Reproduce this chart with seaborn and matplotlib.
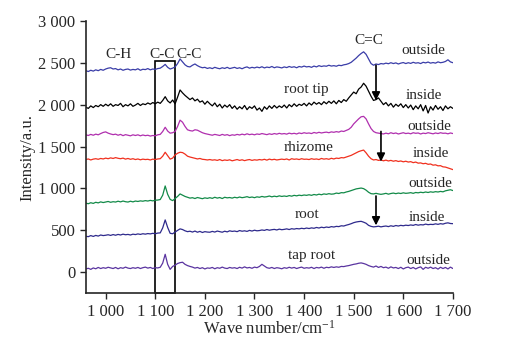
import numpy as np
import pandas as pd
import seaborn as sns
import matplotlib.pyplot as plt
from matplotlib.patches import Rectangle

sns.set_style("ticks")
plt.rcParams["font.family"] = ["Liberation Serif", "DejaVu Serif"]
plt.rcParams["mathtext.fontset"] = "custom"
plt.rcParams["mathtext.rm"] = "Liberation Serif"
plt.rcParams["mathtext.it"] = "Liberation Serif:italic"

# Raman shift axis (cm^-1), 5 cm^-1 steps
wavenumber = list(range(960, 1701, 5))

root_tip_outside = [
    2405, 2395, 2410, 2400, 2415, 2405, 2420, 2410, 2425, 2435,
    2440, 2425, 2430, 2415, 2425, 2410, 2420, 2425, 2412, 2420,
    2415, 2428, 2410, 2422, 2418, 2430, 2415, 2425, 2420, 2430,
    2435, 2455, 2480, 2445, 2425, 2435, 2450, 2490, 2545, 2510,
    2475, 2455, 2450, 2470, 2485, 2465, 2450, 2440, 2445, 2432,
    2440, 2430, 2445, 2435, 2428, 2440, 2432, 2445, 2430, 2438,
    2445, 2432, 2440, 2428, 2442, 2450, 2435, 2445, 2438, 2448,
    2440, 2452, 2438, 2448, 2442, 2455, 2440, 2450, 2445, 2438,
    2450, 2442, 2455, 2445, 2452, 2440, 2455, 2448, 2460, 2450,
    2455, 2445, 2460, 2450, 2465, 2455, 2462, 2458, 2470, 2460,
    2465, 2458, 2470, 2465, 2475, 2480, 2490, 2505, 2530, 2555,
    2585, 2610, 2630, 2600, 2545, 2490, 2470, 2485, 2478, 2490,
    2485, 2495, 2488, 2500, 2490, 2498, 2485, 2495, 2502, 2490,
    2500, 2492, 2505, 2495, 2500, 2490, 2505, 2498, 2508, 2495,
    2502, 2495, 2510, 2500, 2505, 2515, 2535, 2510, 2500]
root_tip_inside = [
    1970, 1955, 1985, 1965, 1990, 1975, 2000, 1980, 2005, 1985,
    2010, 1980, 2000, 1990, 2015, 1975, 2000, 1985, 2010, 1980,
    1995, 2015, 1990, 2010, 2000, 2020, 2005, 2025, 2010, 2030,
    2015, 2050, 2095, 2045, 2020, 2055, 2010, 2090, 2175, 2140,
    2110, 2085, 2060, 2080, 2045, 2065, 2030, 2045, 2005, 2040,
    2010, 1985, 2020, 1975, 2005, 1960, 1995, 1970, 2000, 1955,
    1985, 1945, 1975, 1950, 1990, 1940, 1975, 1955, 1985, 1935,
    1960, 1920, 1975, 1945, 1985, 1955, 1990, 1960, 1985, 1965,
    1995, 1960, 2000, 1975, 2010, 1980, 2005, 1990, 2015, 1985,
    2020, 1995, 2030, 2005, 2025, 2000, 2035, 2010, 2040, 2015,
    2045, 2010, 2050, 2025, 2060, 2040, 2080, 2115, 2150, 2130,
    2185, 2210, 2255, 2220, 2160, 2100, 2050, 2060, 2080, 2040,
    2000, 2025, 1985, 2015, 1970, 2005, 1980, 2010, 1965, 2000,
    1960, 1995, 1940, 1985, 1950, 2000, 1925, 1990, 1900, 1975,
    1935, 1990, 1945, 1975, 1930, 1985, 1950, 1975, 1955]
rhizome_outside = [
    1640, 1632, 1645, 1635, 1648, 1640, 1655, 1668, 1675, 1660,
    1650, 1642, 1648, 1635, 1645, 1630, 1642, 1635, 1628, 1640,
    1632, 1640, 1628, 1638, 1630, 1635, 1625, 1632, 1628, 1640,
    1645, 1680, 1730, 1685, 1660, 1665, 1680, 1740, 1815, 1790,
    1740, 1700, 1690, 1685, 1700, 1695, 1680, 1665, 1655, 1648,
    1642, 1635, 1645, 1638, 1632, 1645, 1635, 1642, 1630, 1640,
    1635, 1645, 1638, 1648, 1640, 1652, 1642, 1648, 1640, 1650,
    1645, 1655, 1648, 1642, 1652, 1645, 1655, 1648, 1658, 1650,
    1655, 1648, 1660, 1652, 1658, 1650, 1662, 1655, 1665, 1658,
    1662, 1655, 1668, 1660, 1670, 1662, 1668, 1672, 1665, 1675,
    1670, 1678, 1672, 1685, 1680, 1692, 1705, 1730, 1770, 1800,
    1830, 1855, 1860, 1830, 1770, 1715, 1680, 1665, 1660, 1655,
    1650, 1660, 1652, 1665, 1655, 1662, 1650, 1658, 1665, 1655,
    1660, 1652, 1665, 1658, 1662, 1650, 1660, 1655, 1665, 1658,
    1652, 1662, 1655, 1665, 1658, 1660, 1652, 1662, 1655]
rhizome_inside = [
    1345, 1352, 1340, 1350, 1355, 1348, 1358, 1352, 1362, 1355,
    1365, 1358, 1368, 1360, 1355, 1362, 1350, 1358, 1348, 1355,
    1345, 1352, 1342, 1350, 1345, 1348, 1340, 1350, 1345, 1352,
    1355, 1385, 1432, 1390, 1350, 1362, 1400, 1420, 1432, 1428,
    1410, 1385, 1375, 1368, 1360, 1352, 1358, 1348, 1345, 1340,
    1345, 1338, 1342, 1335, 1345, 1332, 1340, 1335, 1342, 1330,
    1338, 1345, 1335, 1342, 1332, 1340, 1345, 1335, 1342, 1338,
    1345, 1340, 1348, 1338, 1350, 1342, 1348, 1340, 1345, 1350,
    1345, 1352, 1340, 1355, 1348, 1352, 1345, 1355, 1348, 1350,
    1345, 1355, 1348, 1352, 1345, 1358, 1350, 1355, 1348, 1360,
    1352, 1362, 1358, 1368, 1365, 1375, 1385, 1395, 1410, 1425,
    1440, 1450, 1458, 1425, 1385, 1355, 1340, 1345, 1335, 1340,
    1330, 1338, 1328, 1335, 1325, 1332, 1322, 1328, 1318, 1325,
    1315, 1320, 1308, 1315, 1302, 1305, 1295, 1300, 1288, 1292,
    1278, 1282, 1270, 1272, 1258, 1255, 1245, 1235, 1225]
root_outside = [
    825, 818, 830, 822, 835, 828, 840, 832, 838, 845,
    835, 842, 838, 848, 840, 850, 842, 838, 848, 840,
    850, 845, 852, 848, 855, 850, 858, 852, 860, 862,
    868, 920, 1030, 930, 870, 855, 880, 905, 935, 920,
    905, 895, 885, 890, 880, 892, 885, 878, 888, 882,
    890, 882, 895, 885, 892, 880, 895, 888, 892, 885,
    895, 888, 898, 890, 895, 902, 892, 898, 890, 900,
    895, 905, 898, 902, 910, 900, 908, 902, 912, 905,
    910, 905, 915, 908, 918, 912, 920, 915, 922, 918,
    925, 918, 928, 922, 932, 925, 935, 930, 938, 932,
    935, 945, 940, 950, 948, 958, 965, 975, 985, 995,
    1000, 1005, 998, 980, 955, 938, 935, 942, 935, 930,
    935, 942, 932, 940, 945, 938, 945, 940, 948, 942,
    945, 950, 942, 952, 948, 955, 950, 958, 952, 960,
    955, 962, 958, 965, 960, 972, 978, 985, 975]
root_inside = [
    430, 425, 438, 428, 440, 432, 445, 438, 442, 448,
    440, 450, 442, 452, 445, 455, 448, 452, 445, 455,
    450, 458, 452, 460, 455, 462, 458, 465, 460, 468,
    470, 530, 625, 535, 465, 460, 480, 500, 518, 510,
    495, 485, 490, 480, 492, 478, 488, 475, 485, 480,
    478, 488, 480, 492, 485, 478, 490, 482, 495, 488,
    492, 485, 498, 490, 495, 488, 500, 492, 502, 495,
    498, 505, 500, 510, 502, 508, 512, 505, 515, 508,
    512, 518, 510, 520, 515, 522, 518, 525, 520, 528,
    522, 530, 525, 535, 528, 538, 532, 540, 535, 545,
    540, 548, 545, 555, 552, 562, 570, 580, 592, 600,
    605, 608, 598, 585, 560, 548, 542, 545, 550, 542,
    548, 552, 545, 555, 548, 558, 552, 560, 555, 562,
    558, 565, 560, 570, 562, 568, 565, 575, 568, 572,
    570, 578, 572, 580, 575, 585, 590, 582, 580]
tap_root_outside = [
    40, 48, 35, 52, 42, 58, 45, 55, 48, 60,
    52, 45, 58, 42, 55, 48, 62, 50, 45, 55,
    48, 58, 45, 55, 62, 50, 58, 45, 55, 52,
    60, 110, 215, 95, 35, 70, 85, 105, 115, 120,
    95, 80, 70, 62, 50, 58, 45, 55, 40, 52,
    48, 58, 42, 55, 48, 62, 50, 45, 58, 50,
    55, 45, 60, 50, 65, 52, 58, 48, 62, 55,
    70, 95, 75, 55, 48, 58, 45, 55, 50, 42,
    55, 48, 60, 50, 58, 45, 55, 62, 48, 55,
    50, 60, 45, 58, 52, 62, 48, 60, 55, 65,
    58, 65, 60, 70, 68, 75, 80, 88, 95, 100,
    108, 112, 105, 95, 80, 70, 62, 75, 58, 70,
    55, 62, 48, 65, 52, 58, 45, 60, 40, 55,
    62, 45, 58, 40, 55, 65, 35, 60, 48, 62,
    45, 55, 38, 60, 45, 58, 40, 62, 45]

x_ticks = [1000, 1100, 1200, 1300, 1400, 1500, 1600, 1700]
x_tick_labels = ["1 000", "1 100", "1 200", "1 300", "1 400", "1 500", "1 600", "1 700"]
y_ticks = [0, 500, 1000, 1500, 2000, 2500, 3000]
y_tick_labels = ["0", "500", "1 000", "1 500", "2 000", "2 500", "3 000"]

spectra = {
    "root tip outside": root_tip_outside,
    "root tip inside": root_tip_inside,
    "rhizome outside": rhizome_outside,
    "rhizome inside": rhizome_inside,
    "root outside": root_outside,
    "root inside": root_inside,
    "tap root outside": tap_root_outside,
}
colors = {
    "root tip outside": "#3a3da8",
    "root tip inside": "#000000",
    "rhizome outside": "#b02fae",
    "rhizome inside": "#f0301e",
    "root outside": "#128a48",
    "root inside": "#2e2a8c",
    "tap root outside": "#5a34a0",
}

df = pd.concat(
    [pd.DataFrame({"wavenumber": wavenumber, "intensity": v, "sample": k})
     for k, v in spectra.items()],
    ignore_index=True,
)

fig = plt.figure(figsize=(5.17, 3.41), dpi=100)
ax = fig.add_axes([0.166, 0.140, 0.710, 0.799])

sns.lineplot(data=df, x="wavenumber", y="intensity", hue="sample",
             palette=colors, legend=False, linewidth=0.9, ax=ax)

ax.set_xlim(960, 1700)
ax.set_ylim(-250, 3000)
ax.set_xticks(x_ticks, x_tick_labels)
ax.set_yticks(y_ticks, y_tick_labels)
ax.tick_params(labelsize=12, direction="out", length=4, width=1)
ax.set_xlabel("Wave number/cm$^{-1}$", fontsize=12, labelpad=0)
ax.set_ylabel("Intensity/a.u.", fontsize=12, labelpad=2)
sns.despine(ax=ax)
for s in ("left", "bottom"):
    ax.spines[s].set_linewidth(1.2)

# C-C band window
ax.add_patch(Rectangle((1100, -250), 40, 2770, fill=False,
                       edgecolor="black", linewidth=1.2, clip_on=False))

# Band labels
fs = 11
ax.text(1025, 2600, "C-H", fontsize=fs, ha="center", va="center")
ax.text(1113, 2600, "C-C", fontsize=fs, ha="center", va="center")
ax.text(1168, 2600, "C-C", fontsize=fs, ha="center", va="center")
ax.text(1531, 2770, "C=C", fontsize=fs, ha="center", va="center")

# Sample / side labels
labels = [
    (1640, 2650, "outside"), (1405, 2180, "root tip"), (1642, 2110, "inside"),
    (1652, 1740, "outside"), (1410, 1490, "rhizome"), (1655, 1420, "inside"),
    (1655, 1055, "outside"), (1405, 685, "root"), (1648, 650, "inside"),
    (1415, 195, "tap root"), (1650, 145, "outside"),
]
for x, y, t in labels:
    ax.text(x, y, t, fontsize=fs, ha="center", va="center")

# Arrows marking the C=C shift from outside to inside
for x0, y0, y1 in [(1545, 2470, 2050), (1555, 1680, 1320), (1545, 910, 560)]:
    ax.annotate("", xy=(x0, y1), xytext=(x0, y0),
                arrowprops=dict(arrowstyle="-|>", color="black", lw=1.2,
                                mutation_scale=12, shrinkA=0, shrinkB=0))

fig.savefig("out.png", dpi=100)
